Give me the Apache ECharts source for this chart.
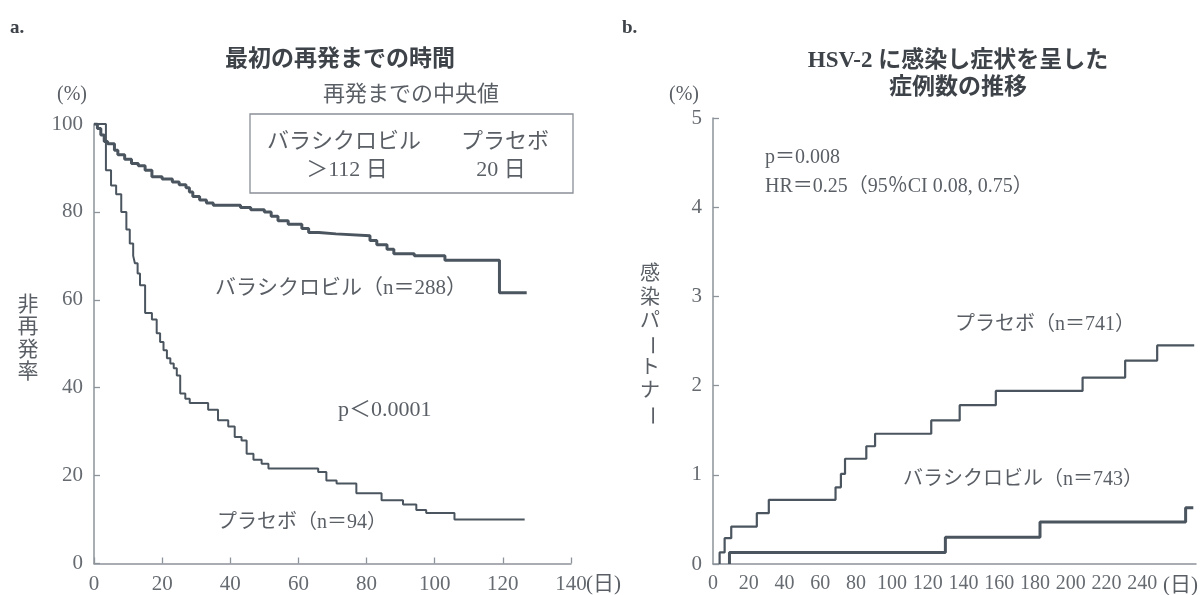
<!DOCTYPE html>
<html>
<head>
<meta charset="utf-8">
<script src="https://cdn.jsdelivr.net/npm/echarts@6/dist/echarts.min.js"></script>
<style>
  html, body { margin: 0; padding: 0; background: #fff; }
  #chart { width: 1200px; height: 595px; }
</style>
</head>
<body>
<div id="chart"></div>
<script>
// a. 最初の再発までの時間 — Kaplan–Meier 非再発率 (%), [日, %]
const relapseValacyclovir = [
  [0, 100], [1, 99], [2, 97.5], [3, 96], [4, 95.5], [6, 94], [7, 93], [9, 92],
  [11, 91], [13, 90.5], [15, 89.5], [17, 88], [20, 87.5], [23, 86.8], [25, 86.2],
  [27, 85.5], [28, 84.5], [29, 83.5], [31, 82.7], [33, 82], [35, 81.5], [43, 81],
  [46, 80.5], [50, 80], [52, 79], [54, 78], [57, 77.2], [61, 76.2], [63, 75.3],
  [66, 75], [71, 74.6], [81, 73.5], [83, 72.5], [86, 71.5], [88, 70.5], [94, 70],
  [103, 69], [119, 61.6], [127, 61.6]
];
const relapsePlacebo = [
  [0, 100], [3.5, 89.5], [5, 86], [6.5, 84], [8, 80], [9.5, 76], [10.5, 72.8],
  [11.5, 70], [12, 68.3], [12.8, 66], [13.5, 63.3], [15, 57], [17, 55.5],
  [18.4, 52.4], [19.4, 50.4], [20.4, 48.5], [21.4, 46.7], [22.4, 45.5],
  [23.4, 44.4], [24.3, 42.8], [25.3, 38.7], [26.8, 37.5], [28.1, 36.5],
  [33.5, 35], [36.4, 32.6], [39.4, 31.2], [41.3, 28.8], [43.3, 28], [44.8, 25],
  [46.8, 23.6], [49.2, 22.7], [51.2, 21.6], [65.8, 20.8], [68.2, 18.9],
  [71.2, 18.2], [77, 16], [84.4, 14.4], [90.7, 13.4], [94.6, 12.2], [97.5, 11.5],
  [105.8, 10], [126.4, 10]
];

// b. HSV-2 に感染し症状を呈した症例数の推移 — 感染パートナー (%), [日, %]
const infectionPlacebo = [
  [3.7, 0], [3.7, 0.13], [6.5, 0.29], [10.2, 0.42], [24.5, 0.57], [31.2, 0.72],
  [68.5, 0.86], [71.5, 1.01], [73.8, 1.18], [85.7, 1.32], [90.6, 1.46], [122, 1.61],
  [137.9, 1.78], [158.1, 1.94], [206.6, 2.09], [230.4, 2.28], [248.3, 2.45],
  [269, 2.45]
];
const infectionValacyclovir = [
  [9.2, 0], [9.2, 0.13], [129.9, 0.30], [182.8, 0.47], [264.2, 0.63], [268.5, 0.63]
];

// tick settings
const relapseDayTicks = { min: 0, max: 140, interval: 20 };
const relapseRateTicks = { min: 0, max: 100, interval: 20 };
const infectionDayTicks = { min: 0, max: 270, interval: 20, lastLabel: 240 };
const infectionRateTicks = { min: 0, max: 5, interval: 1 };

const SERIF = '"Liberation Serif", "DejaVu Serif", "Noto Sans CJK JP", serif';
const AXIS_COLOR = '#8d939a';
const LINE_COLOR = '#4b555f';
const TEXT_COLOR = '#5a5f66';
const TITLE_COLOR = '#3e4349';

function label(text, x, y, size, opts) {
  opts = opts || {};
  return {
    type: 'text', x: x, y: y, silent: true,
    style: {
      text: text,
      font: (opts.weight || 'normal') + ' ' + size + 'px ' + SERIF,
      fill: opts.color || TEXT_COLOR,
      align: opts.align || 'left',
      verticalAlign: 'middle'
    }
  };
}

// vertical (tategaki) axis title; the long vowel mark is turned upright
function verticalLabel(text, cx, y0, step, size) {
  return Array.from(text).map(function (ch, i) {
    const el = label(ch, cx, y0 + i * step, size, { align: 'center' });
    if (ch === 'ー') el.rotation = -Math.PI / 2;
    return el;
  });
}

function valueAxis(ticks, gridIndex, extra) {
  return Object.assign({
    type: 'value', gridIndex: gridIndex,
    min: ticks.min, max: ticks.max, interval: ticks.interval,
    splitLine: { show: false },
    axisLine: { show: true, lineStyle: { color: AXIS_COLOR, width: 1.5 } },
    axisTick: { show: true, inside: true, length: 6, lineStyle: { color: AXIS_COLOR, width: 1.3 } },
    axisLabel: { fontSize: 21, fontFamily: SERIF, color: '#666b71', margin: 10 }
  }, extra || {});
}

const chart = echarts.init(document.getElementById('chart'), null, { renderer: 'canvas' });

chart.setOption({
  animation: false,
  backgroundColor: '#ffffff',
  grid: [
    { left: 94, top: 124, width: 477, height: 439.5, containLabel: false, outerBoundsMode: 'none' },
    { left: 713, top: 118, width: 483, height: 446, containLabel: false, outerBoundsMode: 'none' }
  ],
  xAxis: [
    valueAxis(relapseDayTicks, 0),
    valueAxis(infectionDayTicks, 1, {
      axisTick: { show: false },
      axisLabel: {
        fontSize: 20, fontFamily: SERIF, color: '#666b71', margin: 10, showMaxLabel: false,
        formatter: function (v) { return v <= infectionDayTicks.lastLabel ? String(v) : ''; }
      }
    })
  ],
  yAxis: [
    valueAxis(relapseRateTicks, 0, {
      axisLabel: { fontSize: 21, fontFamily: SERIF, color: '#666b71', margin: 11 }
    }),
    valueAxis(infectionRateTicks, 1, {
      axisLabel: { fontSize: 21, fontFamily: SERIF, color: '#666b71', margin: 11 }
    })
  ],
  series: [
    {
      name: 'バラシクロビル', type: 'line', step: 'end', symbol: 'none',
      xAxisIndex: 0, yAxisIndex: 0, data: relapseValacyclovir,
      lineStyle: { color: LINE_COLOR, width: 3 }
    },
    {
      name: 'プラセボ', type: 'line', step: 'end', symbol: 'none',
      xAxisIndex: 0, yAxisIndex: 0, data: relapsePlacebo,
      lineStyle: { color: LINE_COLOR, width: 2 }
    },
    {
      name: 'プラセボ', type: 'line', step: 'end', symbol: 'none',
      xAxisIndex: 1, yAxisIndex: 1, data: infectionPlacebo,
      lineStyle: { color: LINE_COLOR, width: 2.2 }
    },
    {
      name: 'バラシクロビル', type: 'line', step: 'end', symbol: 'none',
      xAxisIndex: 1, yAxisIndex: 1, data: infectionValacyclovir,
      lineStyle: { color: LINE_COLOR, width: 3 }
    }
  ],
  graphic: [
    // panel a
    label('a.', 10, 28, 19, { weight: 'bold', color: TITLE_COLOR }),
    label('最初の再発までの時間', 340, 60, 23, { weight: 'bold', color: TITLE_COLOR, align: 'center' }),
    label('(%)', 72, 95, 20, { align: 'center' }),
    label('再発までの中央値', 411, 95, 22, { align: 'center' }),
    {
      type: 'rect', silent: true,
      shape: { x: 250, y: 114, width: 323, height: 79 },
      style: { fill: 'none', stroke: '#8a8f96', lineWidth: 1.3 }
    },
    label('バラシクロビル', 267, 142, 22),
    label('プラセボ', 461, 142, 22),
    label('＞112 日', 347, 170, 22, { align: 'center' }),
    label('20 日', 501, 170, 22, { align: 'center' }),
    label('バラシクロビル（n＝288）', 215, 288, 21),
    label('p＜0.0001', 338, 410, 22),
    label('プラセボ（n＝94）', 217, 523, 20),
    label('(日)', 586, 584, 21),
    ...verticalLabel('非再発率', 28, 305, 22.5, 21),

    // panel b
    label('b.', 622, 28, 19, { weight: 'bold', color: TITLE_COLOR }),
    label('HSV-2 に感染し症状を呈した', 958, 61, 23, { weight: 'bold', color: TITLE_COLOR, align: 'center' }),
    label('症例数の推移', 958, 88, 23, { weight: 'bold', color: TITLE_COLOR, align: 'center' }),
    label('(%)', 684, 95, 20, { align: 'center' }),
    label('p＝0.008', 765, 158, 20),
    label('HR＝0.25（95％CI 0.08, 0.75）', 765, 187, 20),
    label('プラセボ（n＝741）', 955, 325, 20),
    label('バラシクロビル（n＝743）', 903, 480, 20),
    label('(日)', 1163, 585, 21),
    ...verticalLabel('感染パートナー', 650, 275, 23.4, 20)
  ]
});
</script>
</body>
</html>
